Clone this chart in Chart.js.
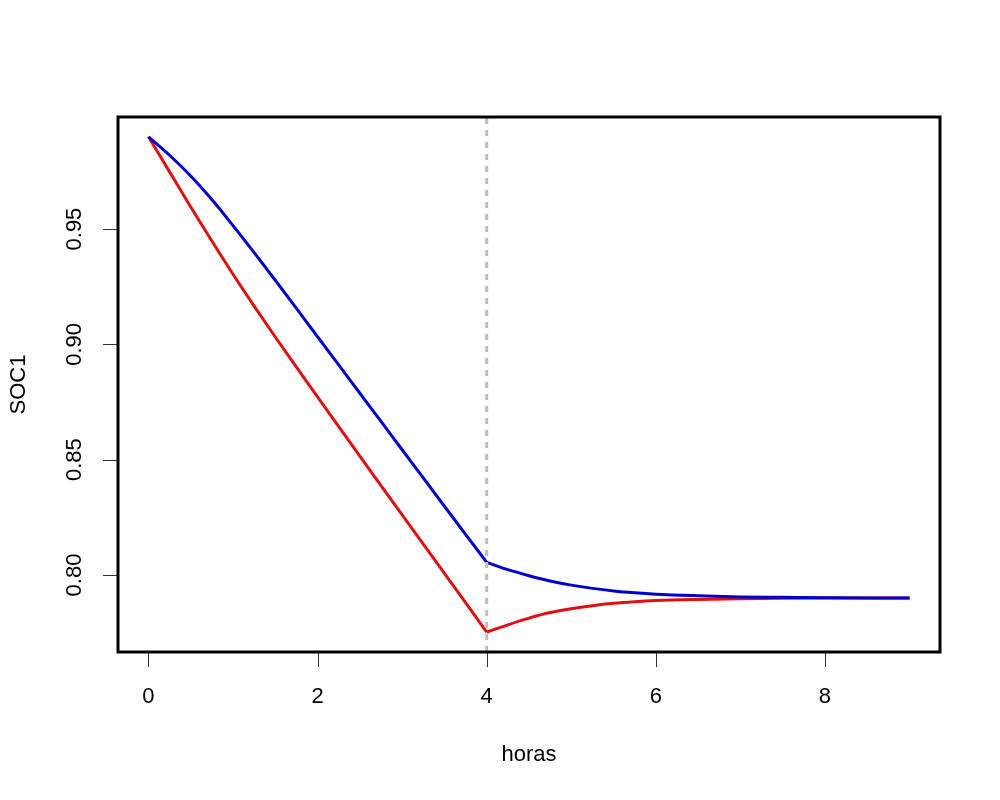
<!DOCTYPE html>
<html>
<head>
<meta charset="utf-8">
<script src="https://cdn.jsdelivr.net/npm/chart.js@4.4.1/dist/chart.umd.min.js"></script>
<style>
  html, body { margin: 0; padding: 0; background: #ffffff; }
  #wrap { width: 1000px; height: 800px; }
</style>
</head>
<body>
<div id="wrap"><canvas id="c" width="1000" height="800"></canvas></div>
<script>
// ---- data ----
const hours = [0, 0.25, 0.5, 0.75, 1, 1.25, 1.5, 1.75, 2, 2.25, 2.5, 2.75, 3, 3.25, 3.5, 3.75, 4,
               4.25, 4.5, 4.75, 5, 5.25, 5.5, 5.75, 6, 6.5, 7, 7.5, 8, 8.5, 9];
const socBlue = [0.9900, 0.9820, 0.9730, 0.9628, 0.9515, 0.9398, 0.9278, 0.9156, 0.9033, 0.8911,
                 0.8788, 0.8666, 0.8543, 0.8421, 0.8298, 0.8176, 0.8055,
                 0.8023, 0.7997, 0.7974, 0.7956, 0.7942, 0.7931, 0.7923, 0.7917, 0.7910, 0.7905,
                 0.7903, 0.7901, 0.7900, 0.7900];
const socRed = [0.9900, 0.9748, 0.9596, 0.9448, 0.9304, 0.9166, 0.9032, 0.8901, 0.8772, 0.8643,
                0.8515, 0.8388, 0.8261, 0.8134, 0.8007, 0.7880, 0.7752,
                0.7784, 0.7813, 0.7837, 0.7854, 0.7867, 0.7877, 0.7884, 0.7889, 0.7894, 0.7897,
                0.7899, 0.7900, 0.7900, 0.7900];
const cutHour = 4;
const xTicks = [0, 2, 4, 6, 8];
const yTicks = [0.80, 0.85, 0.90, 0.95];
const xTitle = "horas";
const yTitle = "SOC1";

// R-style 4% axis extension
function rRange(vals) {
  const lo = Math.min(...vals), hi = Math.max(...vals);
  const d = (hi - lo) * 0.04;
  return [lo - d, hi + d];
}
const [xMin, xMax] = rRange(hours);
const [yMin, yMax] = rRange(socBlue.concat(socRed));

const toPts = (xs, ys) => xs.map((x, i) => ({ x: x, y: ys[i] }));
const cutIdx = hours.indexOf(cutHour);
const before = ys => toPts(hours.slice(0, cutIdx + 1), ys.slice(0, cutIdx + 1));
const after = ys => toPts(hours.slice(cutIdx), ys.slice(cutIdx));

const FONT = '"Liberation Sans", Arimo, Arial, Helvetica, sans-serif';
const BLUE = '#0000CC';
const RED = '#E01010';

const rAxes = {
  id: 'rAxes',
  afterDraw(chart) {
    const ctx = chart.ctx;
    const a = chart.chartArea;
    const xs = chart.scales.x, ys = chart.scales.y;
    ctx.save();
    // ticks
    ctx.strokeStyle = '#333333';
    ctx.lineWidth = 1;
    xs.ticks.forEach(t => {
      const px = Math.round(xs.getPixelForValue(t.value)) + 0.5;
      ctx.beginPath(); ctx.moveTo(px, a.bottom); ctx.lineTo(px, a.bottom + 15); ctx.stroke();
    });
    ys.ticks.forEach(t => {
      const py = Math.round(ys.getPixelForValue(t.value)) + 0.5;
      ctx.beginPath(); ctx.moveTo(a.left, py); ctx.lineTo(a.left - 15, py); ctx.stroke();
    });
    // box
    ctx.strokeStyle = '#000000';
    ctx.lineWidth = 3;
    ctx.strokeRect(a.left, a.top, a.right - a.left, a.bottom - a.top);
    // tick labels
    ctx.fillStyle = '#000000';
    ctx.font = '22px ' + FONT;
    ctx.textAlign = 'center';
    ctx.textBaseline = 'middle';
    xs.ticks.forEach(t => {
      ctx.fillText(String(t.value), xs.getPixelForValue(t.value), a.bottom + 45);
    });
    ys.ticks.forEach(t => {
      ctx.save();
      ctx.translate(a.left - 43, ys.getPixelForValue(t.value));
      ctx.rotate(-Math.PI / 2);
      ctx.fillText(t.value.toFixed(2), 0, 0);
      ctx.restore();
    });
    // titles
    ctx.fillText(xTitle, (a.left + a.right) / 2, a.bottom + 103);
    ctx.save();
    ctx.translate(a.left - 99, (a.top + a.bottom) / 2);
    ctx.rotate(-Math.PI / 2);
    ctx.fillText(yTitle, 0, 0);
    ctx.restore();
    ctx.restore();
  }
};

const curve = (data, color, order) => ({
  data: data,
  borderColor: color,
  borderWidth: 3,
  pointRadius: 0,
  cubicInterpolationMode: 'monotone',
  order: order
});

new Chart(document.getElementById('c'), {
  type: 'line',
  data: {
    datasets: [
      {
        label: 'corte',
        data: [{ x: cutHour, y: yMin }, { x: cutHour, y: yMax }],
        borderColor: '#BEBEBE',
        borderWidth: 3,
        borderDash: [6, 6],
        pointRadius: 0,
        order: 0
      },
      curve(before(socBlue), BLUE, 1),
      curve(after(socBlue), BLUE, 1),
      curve(before(socRed), RED, 2),
      curve(after(socRed), RED, 2)
    ]
  },
  options: {
    responsive: false,
    animation: false,
    layout: { padding: { left: 0, right: 60, top: 117, bottom: 0 } },
    plugins: { legend: { display: false }, tooltip: { enabled: false } },
    scales: {
      x: {
        type: 'linear',
        min: xMin, max: xMax,
        grid: { display: false },
        border: { display: false },
        ticks: { display: false },
        afterBuildTicks: s => { s.ticks = xTicks.map(v => ({ value: v })); },
        afterFit: s => { s.height = 148; }
      },
      y: {
        type: 'linear',
        min: yMin, max: yMax,
        grid: { display: false },
        border: { display: false },
        ticks: { display: false },
        afterBuildTicks: s => { s.ticks = yTicks.map(v => ({ value: v })); },
        afterFit: s => { s.width = 118; }
      }
    }
  },
  plugins: [rAxes]
});
</script>
</body>
</html>
